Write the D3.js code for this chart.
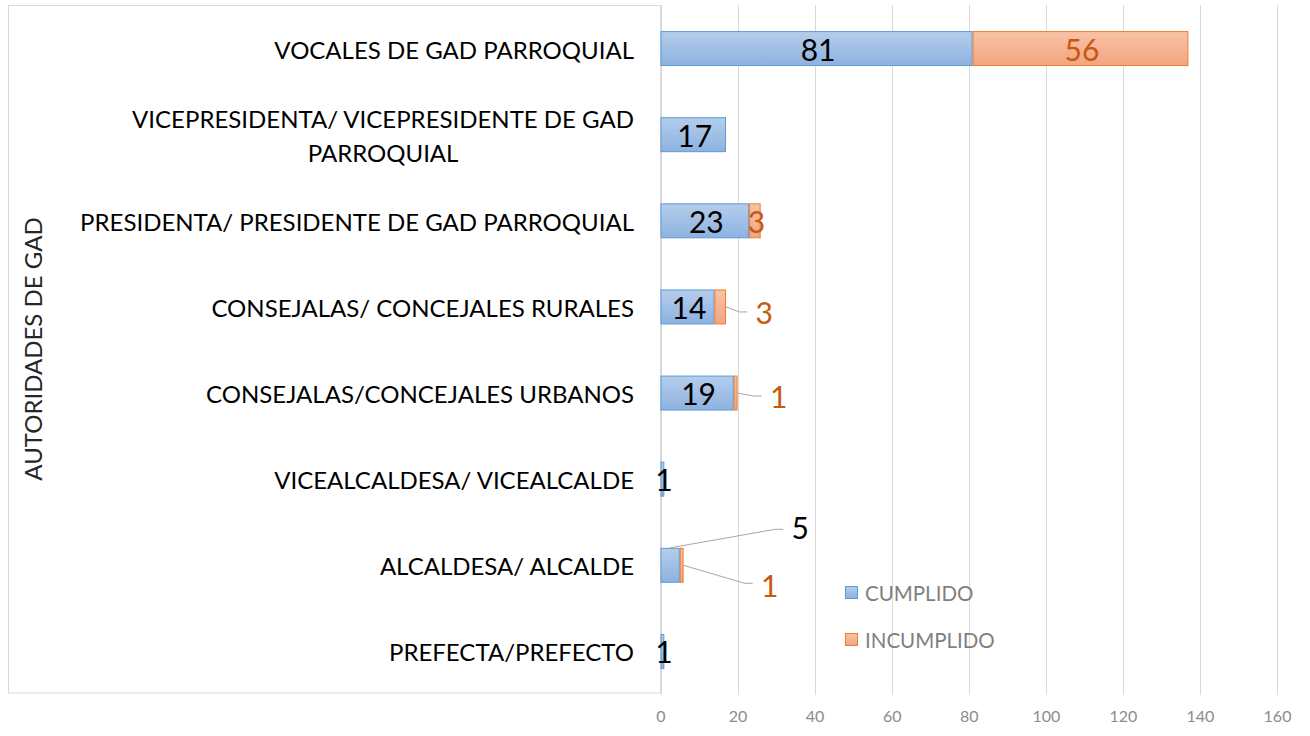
<!DOCTYPE html>
<html>
<head>
<meta charset="utf-8">
<script src="https://cdn.jsdelivr.net/npm/d3@7"></script>
<style>
  body { margin: 0; background: #fff; }
  svg { display: block; font-family: Lato, "Open Sans", sans-serif; }
</style>
</head>
<body>
<svg id="chart" width="1310" height="736"></svg>
<script>
const categories = [
  "VOCALES DE GAD PARROQUIAL",
  "VICEPRESIDENTA/ VICEPRESIDENTE DE GAD|PARROQUIAL",
  "PRESIDENTA/ PRESIDENTE DE GAD PARROQUIAL",
  "CONSEJALAS/ CONCEJALES RURALES",
  "CONSEJALAS/CONCEJALES URBANOS",
  "VICEALCALDESA/ VICEALCALDE",
  "ALCALDESA/ ALCALDE",
  "PREFECTA/PREFECTO"
];
const cumplido = [81, 17, 23, 14, 19, 1, 5, 1];
const incumplido = [56, 0, 3, 3, 1, 0, 1, 0];
const xTicks = [0, 20, 40, 60, 80, 100, 120, 140, 160];
const seriesNames = ["CUMPLIDO", "INCUMPLIDO"];

// labels that Excel dragged outside of the bars (pixel offsets from segment centre)
const labelNudge = {
  "3-1": [44, 5],
  "4-1": [43, 3],
  "6-0": [130, -38],
  "6-1": [88, 20]
};

const svg = d3.select("#chart");

const x = d3.scaleLinear().domain([0, 160]).range([660.5, 1277]);
const y = d3.scaleBand()
  .domain(d3.range(categories.length))
  .range([5.5, 694.5])
  .paddingInner(0.594)
  .paddingOuter(0.297);

const defs = svg.append("defs");
const grad = (id, c1, c2) => {
  const g = defs.append("linearGradient").attr("id", id)
    .attr("x1", 0).attr("y1", 0).attr("x2", 0).attr("y2", 1);
  g.append("stop").attr("offset", "0%").attr("stop-color", c1);
  g.append("stop").attr("offset", "100%").attr("stop-color", c2);
};
grad("gBlue", "#b5cdeb", "#8db2e0");
grad("gOrange", "#f8c3a6", "#f3a47f");
const fills = ["url(#gBlue)", "url(#gOrange)"];
const strokes = ["#5b9bd5", "#ed7d31"];
const labelColors = ["#000000", "#c55a11"];

// box around the category area
svg.append("rect")
  .attr("x", 8.5).attr("y", 5.5)
  .attr("width", 652).attr("height", 687.5)
  .attr("fill", "none")
  .attr("stroke", "#d9d9d9");

// gridlines
svg.append("g")
  .selectAll("line")
  .data(xTicks)
  .join("line")
  .attr("x1", d => Math.round(x(d)) + 0.5)
  .attr("x2", d => Math.round(x(d)) + 0.5)
  .attr("y1", 5)
  .attr("y2", 695)
  .attr("stroke", "#d9d9d9");

// x axis tick labels
const xAxis = d3.axisBottom(x).tickValues(xTicks).tickSize(0).tickPadding(0);
svg.append("g")
  .attr("transform", "translate(0,711)")
  .call(xAxis)
  .call(g => g.select(".domain").remove())
  .call(g => g.selectAll("text")
    .attr("font-family", "Lato, sans-serif")
    .attr("font-size", 16)
    .attr("fill", "#8c8c8c"));

// stacked bars
const stacked = categories.map((c, i) => [
  { i, s: 0, x0: 0, x1: cumplido[i], v: cumplido[i] },
  { i, s: 1, x0: cumplido[i], x1: cumplido[i] + incumplido[i], v: incumplido[i] }
]).flat().filter(d => d.v > 0);

svg.append("g")
  .selectAll("rect")
  .data(stacked)
  .join("rect")
  .attr("x", d => x(d.x0) + 0.5)
  .attr("y", d => y(d.i) + 0.5)
  .attr("width", d => x(d.x1) - x(d.x0) - 1)
  .attr("height", y.bandwidth() - 1)
  .attr("fill", d => fills[d.s])
  .attr("stroke", d => strokes[d.s])
  .attr("stroke-width", 1);

// data labels + leader lines
const lbl = svg.append("g");
stacked.forEach(d => {
  const cx = (x(d.x0) + x(d.x1)) / 2;
  const cy = y(d.i) + y.bandwidth() / 2;
  const nudge = labelNudge[d.i + "-" + d.s];
  const lx = nudge ? cx + nudge[0] : cx + 1.5;
  const ly = nudge ? cy + nudge[1] : cy;
  if (nudge) {
    let sx, sy;
    if (nudge[1] < -y.bandwidth() / 2) {
      sx = cx; sy = y(d.i);
    } else {
      sx = x(d.x1); sy = cy;
    }
    const ex = lx - 17, ey = ly - 2 * Math.sign(nudge[1]) * (Math.abs(nudge[1]) > 10 ? 1 : 0);
    lbl.append("path")
      .attr("d", d3.line()([[sx, sy], [ex - 8, ey], [ex, ey]]))
      .attr("fill", "none")
      .attr("stroke", "#a6a6a6")
      .attr("stroke-width", 1);
  }
  lbl.append("text")
    .attr("x", lx)
    .attr("y", ly)
    .attr("text-anchor", "middle")
    .attr("dominant-baseline", "central")
    .attr("font-size", 30)
    .attr("fill", labelColors[d.s])
    .text(d.v);
});

// category labels
const cat = svg.append("g");
categories.forEach((c, i) => {
  const lines = c.split("|");
  const cy = y(i) + y.bandwidth() / 2;
  const lh = 34;
  const t = cat.append("text")
    .attr("font-size", 24)
    .attr("fill", "#000")
    .attr("dominant-baseline", "central");
  const spans = lines.map((ln, k) => t.append("tspan")
    .attr("y", cy + (k - (lines.length - 1) / 2) * lh)
    .attr("x", 634)
    .attr("text-anchor", "end")
    .text(ln));
  if (lines.length > 1) {
    const w0 = spans[0].node().getComputedTextLength();
    const mid = 634 - w0 / 2;
    spans.slice(1).forEach(s => s.attr("x", mid).attr("text-anchor", "middle"));
  }
});

// axis title
svg.append("text")
  .attr("transform", "translate(32,349) rotate(-90)")
  .attr("text-anchor", "middle")
  .attr("dominant-baseline", "central")
  .attr("font-size", 24)
  .attr("fill", "#262626")
  .text("AUTORIDADES DE GAD");

// legend
const leg = svg.append("g").attr("transform", "translate(845,586)");
seriesNames.forEach((n, k) => {
  const g = leg.append("g").attr("transform", `translate(0,${k * 47})`);
  g.append("rect")
    .attr("x", 0.5).attr("y", 0.5)
    .attr("width", 12).attr("height", 12)
    .attr("fill", fills[k])
    .attr("stroke", strokes[k]);
  g.append("text")
    .attr("x", 20).attr("y", 7)
    .attr("dominant-baseline", "central")
    .attr("font-size", 20.5)
    .attr("fill", "#7f7f7f")
    .text(n);
});
</script>
</body>
</html>
